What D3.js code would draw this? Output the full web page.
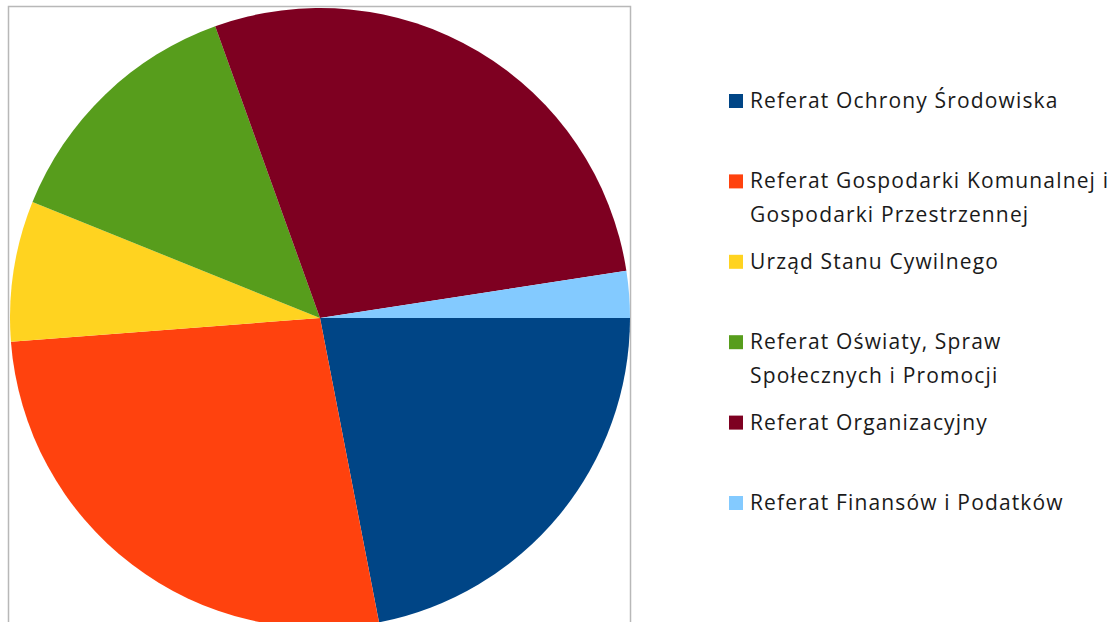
<!DOCTYPE html>
<html>
<head>
<meta charset="utf-8">
<script src="https://cdn.jsdelivr.net/npm/d3@7"></script>
<style>
  html, body { margin: 0; padding: 0; background: #fff; overflow: hidden; }
</style>
</head>
<body>
<div id="chart"></div>
<script>
const categories = [
  'Referat Ochrony Środowiska',
  'Referat Gospodarki Komunalnej i\nGospodarki Przestrzennej',
  'Urząd Stanu Cywilnego',
  'Referat Oświaty, Spraw\nSpołecznych i Promocji',
  'Referat Organizacyjny',
  'Referat Finansów i Podatków'
]
const values = [18, 22, 6, 11, 23, 2]
const colors = ['#004586', '#ff420e', '#ffd320', '#579d1c', '#7e0021', '#83caff']

const width = 1113, height = 622
const cx = 320, cy = 318, radius = 310

const svg = d3.select('#chart')
  .append('svg')
  .attr('width', width)
  .attr('height', height)

// plot frame (bottom runs off the page)
svg.append('rect')
  .attr('x', 8.5).attr('y', 6.5)
  .attr('width', 622).attr('height', 700)
  .attr('fill', '#fff')
  .attr('stroke', '#b8b8b8')
  .attr('stroke-width', 1.5)

const data = categories.map((c, i) => ({ name: c, value: values[i], color: colors[i] }))

const pie = d3.pie()
  .sort(null)
  .value(d => d.value)
  .startAngle(Math.PI / 2)
  .endAngle(Math.PI / 2 + 2 * Math.PI)

const arc = d3.arc().innerRadius(0).outerRadius(radius)

svg.append('g')
  .attr('transform', 'translate(' + cx + ',' + cy + ')')
  .selectAll('path')
  .data(pie(data))
  .enter().append('path')
  .attr('d', arc)
  .attr('fill', d => d.data.color)

// legend
const legendX = 729, legendY = 108, rowStep = 80.4, lineStep = 34
const legend = svg.append('g')
  .attr('font-family', '"Open Sans", "Noto Sans", sans-serif')
  .attr('font-size', 21)
  .attr('letter-spacing', 1.15)
  .attr('fill', '#1a1a1a')

const items = legend.selectAll('g')
  .data(data)
  .enter().append('g')
  .attr('transform', (d, i) => 'translate(' + legendX + ',' + (legendY + i * rowStep) + ')')

items.append('rect')
  .attr('x', 0).attr('y', -14)
  .attr('width', 14).attr('height', 14)
  .attr('fill', d => d.color)

items.append('text')
  .attr('x', 21)
  .selectAll('tspan')
  .data(d => d.name.split('\n'))
  .enter().append('tspan')
  .attr('x', 21)
  .attr('y', (d, i) => i * lineStep)
  .text(d => d)
</script>
</body>
</html>
